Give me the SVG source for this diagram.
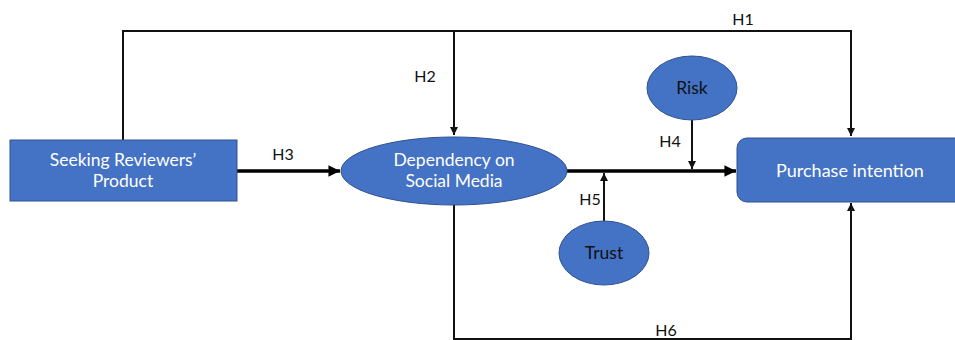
<svg xmlns="http://www.w3.org/2000/svg" width="955" height="340" viewBox="0 0 955 340">
<defs>
<style>
.node{fill:#4472C4;stroke:#2F528F;stroke-width:1}
.wt{font-family:Lato,"Liberation Sans",sans-serif;font-size:17.5px;fill:#ffffff;text-anchor:middle}
.dt{font-family:Lato,"Liberation Sans",sans-serif;font-size:17.5px;fill:#111111;text-anchor:middle}
.lb{font-family:Lato,"Liberation Sans",sans-serif;font-size:16px;fill:#111111;text-anchor:middle}
.thin{fill:none;stroke:#111;stroke-width:2}
.thick{fill:none;stroke:#000;stroke-width:3.5}
</style>
<marker id="sm" viewBox="0 0 10 10" refX="10" refY="5" markerWidth="4" markerHeight="4" orient="auto" markerUnits="strokeWidth"><path d="M0,0 L10,5 L0,10 z" fill="#111"/></marker>
<marker id="big" viewBox="0 0 10 10" refX="10" refY="5" markerWidth="4" markerHeight="3.3" orient="auto" markerUnits="strokeWidth"><path d="M0,0 L10,5 L0,10 z" fill="#000"/></marker>
</defs>
<rect width="955" height="340" fill="#ffffff"/>
<g id="connectors">
<polyline class="thin" points="123,140 123,31 851,31 851,136" marker-end="url(#sm)"/>
<line class="thin" x1="454" y1="31" x2="454" y2="135" marker-end="url(#sm)"/>
<line class="thick" x1="237" y1="171" x2="340" y2="171" marker-end="url(#big)"/>
<line class="thick" x1="567" y1="171" x2="736" y2="171" marker-end="url(#big)"/>
<line class="thin" x1="692" y1="120" x2="692" y2="169" marker-end="url(#sm)"/>
<line class="thin" x1="604" y1="221" x2="604" y2="173" marker-end="url(#sm)"/>
<polyline class="thin" points="454,205 454,339 851,339 851,203" marker-end="url(#sm)"/>
<text class="lb" x="743" y="25">H1</text>
<text class="lb" x="425" y="82">H2</text>
<text class="lb" x="283" y="160">H3</text>
<text class="lb" x="670" y="147">H4</text>
<text class="lb" x="590" y="205">H5</text>
<text class="lb" x="666" y="336">H6</text>
</g>
<g id="seeking">
<rect class="node" x="10" y="140" width="227" height="61"/>
<text class="wt" x="123" y="166">Seeking Reviewers’</text>
<text class="wt" x="123" y="187">Product</text>
</g>
<g id="dependency">
<ellipse class="node" cx="454" cy="171" rx="113" ry="34"/>
<text class="wt" x="454" y="166">Dependency on</text>
<text class="wt" x="454" y="187">Social Media</text>
</g>
<g id="purchase">
<rect class="node" x="737" y="138" width="230" height="64" rx="10"/>
<text class="wt" x="850" y="177" style="font-size:18px">Purchase intention</text>
</g>
<g id="risk">
<ellipse class="node" cx="692" cy="88" rx="45" ry="32"/>
<text class="dt" x="692" y="94">Risk</text>
</g>
<g id="trust">
<ellipse class="node" cx="604" cy="253" rx="45" ry="32"/>
<text class="dt" x="604" y="259">Trust</text>
</g>
</svg>
